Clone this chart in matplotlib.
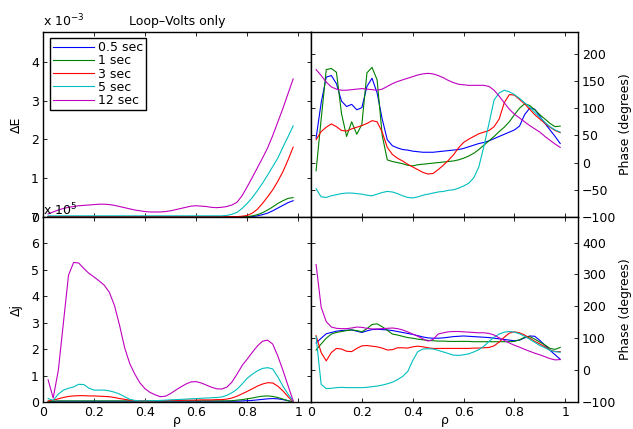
import numpy as np
import matplotlib
matplotlib.use("Agg")
import matplotlib.pyplot as plt

# radial grid (rho) shared by all curves
rho = np.round(np.arange(0.02, 0.99, 0.02), 2)

labels = ["0.5 sec", "1 sec", "3 sec", "5 sec", "12 sec"]
colors = ["#0000ff", "#008000", "#ff0000", "#00bfbf", "#bf00bf"]

# Delta E amplitude (x 1e-3)
dE_05 = [0.005] * 40 + [0.01, 0.03, 0.06, 0.1, 0.16, 0.23, 0.3, 0.37, 0.42]
dE_1 = [0.005] * 39 + [0.01, 0.03, 0.06, 0.11, 0.18, 0.26, 0.35, 0.42, 0.48, 0.5]
dE_3 = [0.01] * 38 + [0.02, 0.04, 0.1, 0.2, 0.35, 0.52, 0.7, 0.92, 1.17, 1.47, 1.8]
dE_5 = [0.03] * 35 + [0.04, 0.07, 0.12, 0.22, 0.35, 0.5, 0.68, 0.87, 1.08, 1.3,
                      1.52, 1.8, 2.07, 2.35]
dE_12 = [0.08, 0.13, 0.18, 0.22, 0.25, 0.27, 0.29, 0.30, 0.31, 0.32,
         0.33, 0.33, 0.32, 0.30, 0.27, 0.24, 0.21, 0.18, 0.16, 0.14,
         0.13, 0.13, 0.13, 0.14, 0.16, 0.19, 0.22, 0.25, 0.28, 0.29,
         0.28, 0.27, 0.25, 0.24, 0.25, 0.27, 0.31, 0.38, 0.55, 0.78,
         1.02, 1.27, 1.52, 1.78, 2.1, 2.45, 2.8, 3.18, 3.56]

# Delta E phase (degrees)
phE_05 = [45, 110, 157, 160, 145, 113, 103, 107, 97, 101,
          140, 155, 128, 80, 42, 31, 27, 24, 23, 21,
          20, 19, 19, 19, 20, 21, 22, 23, 24, 26,
          29, 32, 35, 37, 40, 44, 48, 52, 56, 60,
          67, 88, 100, 98, 85, 72, 60, 48, 35]
phE_1 = [-15, 80, 171, 173, 166, 90, 48, 75, 52, 70,
         165, 175, 152, 50, 5, 2, 0, -2, -5, -6,
         -4, -3, -2, -1, 0, 1, 2, 3, 5, 8,
         12, 17, 24, 32, 40, 48, 57, 65, 75, 88,
         100, 108, 105, 97, 88, 80, 72, 66, 67]
phE_3 = [42, 57, 65, 71, 66, 59, 58, 62, 65, 68,
         72, 77, 75, 56, 28, 15, 8, 3, -3, -8,
         -13, -18, -21, -20, -13, -5, 4, 14, 27, 37,
         43, 48, 53, 56, 59, 66, 80, 110, 125, 124,
         116, 108, 98, 88, 80, 72, 65, 59, 55]
phE_5 = [-48, -63, -64, -61, -59, -57, -56, -56, -57, -58,
         -60, -61, -58, -55, -53, -54, -57, -61, -64, -65,
         -63, -60, -58, -56, -54, -53, -51, -50, -47, -43,
         -38, -28, -8, 30, 72, 115, 128, 133, 130, 125,
         118, 110, 102, 92, 83, 74, 66, 60, 56]
phE_12 = [171, 160, 148, 139, 135, 133, 133, 134, 135, 136,
          135, 134, 133, 135, 140, 145, 149, 152, 155, 158,
          161, 163, 164, 163, 160, 156, 151, 147, 144, 143,
          142, 142, 142, 142, 140, 133, 122, 110, 98, 89,
          82, 75, 68, 62, 56, 48, 41, 34, 28]

# Delta j amplitude (x 1e5)
dj_05 = [0.01, 0.02] + [0.03] * 36 + [0.04, 0.05, 0.06, 0.08, 0.1, 0.12, 0.13,
                                       0.12, 0.09, 0.05, 0.0]
dj_1 = [0.02, 0.03] + [0.04] * 34 + [0.05, 0.07, 0.09, 0.12, 0.15, 0.19, 0.22,
                                      0.23, 0.21, 0.17, 0.11, 0.05, 0.0]
dj_3 = [0.04, 0.07, 0.12, 0.17, 0.21, 0.23, 0.24, 0.24, 0.23, 0.23,
        0.22, 0.21, 0.2, 0.17, 0.13, 0.1, 0.07, 0.05, 0.04, 0.04,
        0.04, 0.05, 0.05, 0.05, 0.06, 0.06, 0.06, 0.07, 0.07, 0.07,
        0.08, 0.08, 0.08, 0.09, 0.09, 0.11, 0.15, 0.22, 0.31, 0.4,
        0.5, 0.6, 0.68, 0.73, 0.72, 0.6, 0.42, 0.2, 0.01]
dj_5 = [0.13, 0.06, 0.3, 0.45, 0.52, 0.57, 0.67, 0.66, 0.52, 0.45,
        0.45, 0.45, 0.42, 0.37, 0.3, 0.2, 0.1, 0.06, 0.04, 0.04,
        0.05, 0.05, 0.06, 0.07, 0.08, 0.09, 0.1, 0.11, 0.12, 0.13,
        0.14, 0.15, 0.16, 0.17, 0.19, 0.25, 0.35, 0.48, 0.68, 0.9,
        1.05, 1.18, 1.27, 1.3, 1.25, 0.95, 0.6, 0.3, 0.03]
dj_12 = [0.84, 0.15, 1.2, 3.0, 4.8, 5.28, 5.26, 5.05, 4.87, 4.73,
         4.58, 4.42, 4.15, 3.65, 2.9, 2.05, 1.45, 1.05, 0.72, 0.5,
         0.36, 0.27, 0.2, 0.22, 0.32, 0.45, 0.57, 0.68, 0.76, 0.77,
         0.72, 0.64, 0.56, 0.5, 0.49, 0.56, 0.75, 1.05, 1.38, 1.62,
         1.88, 2.12, 2.3, 2.34, 2.19, 1.74, 1.2, 0.62, 0.05]

# Delta j phase (degrees)
phj_05 = [85, 100, 114, 118, 122, 124, 125, 126, 122, 118,
          123, 127, 128, 127, 126, 124, 121, 118, 115, 112,
          108, 104, 101, 100, 100, 101, 103, 105, 106, 107,
          106, 105, 104, 103, 102, 100, 98, 96, 94, 92,
          94, 101, 107, 106, 93, 78, 62, 48, 34]
phj_1 = [63, 82, 100, 113, 118, 121, 124, 126, 124, 120,
         130, 143, 145, 136, 125, 113, 110, 106, 102, 100,
         97, 95, 93, 92, 91, 91, 90, 90, 90, 90,
         90, 89, 89, 89, 89, 89, 89, 89, 89, 90,
         95, 103, 105, 97, 88, 79, 68, 65, 71]
phj_3 = [108, 55, 29, 55, 68, 66, 59, 58, 68, 76,
         77, 75, 73, 69, 63, 64, 70, 70, 69, 73,
         75, 73, 70, 68, 68, 68, 68, 68, 68, 68,
         68, 69, 69, 70, 71, 76, 88, 103, 116, 120,
         117, 110, 100, 90, 82, 73, 63, 58, 58]
phj_5 = [105, -45, -58, -57, -55, -54, -55, -55, -55, -55,
         -54, -52, -50, -47, -43, -38, -30, -20, -5, 30,
         58, 66, 67, 66, 62, 57, 52, 47, 46, 48,
         51, 57, 64, 75, 90, 103, 113, 119, 121, 119,
         114, 106, 97, 87, 77, 70, 62, 58, 56]
phj_12 = [331, 197, 152, 135, 131, 130, 130, 132, 135, 134,
          131, 129, 129, 130, 131, 132, 130, 126, 120, 113,
          106, 98, 91, 96, 113, 117, 120, 121, 121, 120,
          119, 118, 117, 117, 115, 110, 101, 93, 85, 78,
          72, 65, 59, 53, 48, 42, 36, 32, 33]

FS = 9
plt.rcParams["font.family"] = "DejaVu Sans"
plt.rcParams["font.size"] = FS
plt.rcParams["mathtext.default"] = "regular"

W, H = 633, 429
fig = plt.figure(figsize=(W / 100, H / 100), dpi=100)

def px_axes(x0, y0, x1, y1):
    return fig.add_axes([x0 / W, 1 - y1 / H, (x1 - x0) / W, (y1 - y0) / H])

ax_tl = px_axes(43, 32, 311, 217)
ax_tr = px_axes(311, 32, 578, 217)
ax_bl = px_axes(43, 217, 311, 402)
ax_br = px_axes(311, 217, 578, 402)

def style(ax, right=False, xlabels=False):
    ax.set_xlim(0, 1.05)
    ax.set_xticks([0, 0.2, 0.4, 0.6, 0.8, 1])
    ax.set_xticklabels(["0", "0.2", "0.4", "0.6", "0.8", "1"] if xlabels else [])
    ax.tick_params(direction="in", length=3, width=0.6, top=True, right=True,
                   left=True, bottom=True, labelsize=FS, pad=3,
                   labelleft=not right, labelright=right)
    for s in ax.spines.values():
        s.set_linewidth(1.0)

series_E = [dE_05, dE_1, dE_3, dE_5, dE_12]
series_phE = [phE_05, phE_1, phE_3, phE_5, phE_12]
series_j = [dj_05, dj_1, dj_3, dj_5, dj_12]
series_phj = [phj_05, phj_1, phj_3, phj_5, phj_12]

for i in range(5):
    ax_tl.plot(rho, series_E[i], color=colors[i], lw=0.8, label=labels[i])
    ax_tr.plot(rho, series_phE[i], color=colors[i], lw=0.8)
    ax_bl.plot(rho, series_j[i], color=colors[i], lw=0.8)
    ax_br.plot(rho, series_phj[i], color=colors[i], lw=0.8)

style(ax_tl)
ax_tl.set_ylim(0, 4.77)
ax_tl.set_yticks([0, 1, 2, 3, 4])
ax_tl.set_ylabel("\u0394E", labelpad=6)
ax_tl.set_title("Loop\u2013Volts only", fontsize=FS, pad=5)
leg = ax_tl.legend(loc="upper left", bbox_to_anchor=(0.026, 0.968),
                   borderaxespad=0, fancybox=False, edgecolor="black",
                   framealpha=1, handlelength=3.3, labelspacing=0.02,
                   borderpad=0.25, handletextpad=0.3, fontsize=FS)
leg.get_frame().set_linewidth(1.0)

style(ax_tr, right=True)
ax_tr.set_ylim(-100, 240)
ax_tr.set_yticks([-100, -50, 0, 50, 100, 150, 200])
ax_tr.yaxis.set_label_position("right")
ax_tr.set_ylabel("Phase (degrees)", labelpad=2)

style(ax_bl, xlabels=True)
ax_bl.set_ylim(0, 7)
ax_bl.set_yticks(range(8))
ax_bl.set_ylabel("\u0394j", labelpad=6)
ax_bl.set_xlabel("\u03c1", labelpad=-4)

style(ax_br, right=True, xlabels=True)
ax_br.set_ylim(-100, 480)
ax_br.set_yticks([-100, 0, 100, 200, 300, 400])
ax_br.yaxis.set_label_position("right")
ax_br.set_ylabel("Phase (degrees)", labelpad=2)
ax_br.set_xlabel("\u03c1", labelpad=-4)

# Matlab-style exponent labels
fig.text(43 / W, 1 - 26 / H, "x 10$^{-3}$", ha="left", va="baseline", fontsize=FS)
fig.text(43 / W, 1 - 215 / H, "x 10$^{5}$", ha="left", va="baseline", fontsize=FS)

fig.savefig("out.png", dpi=100)
